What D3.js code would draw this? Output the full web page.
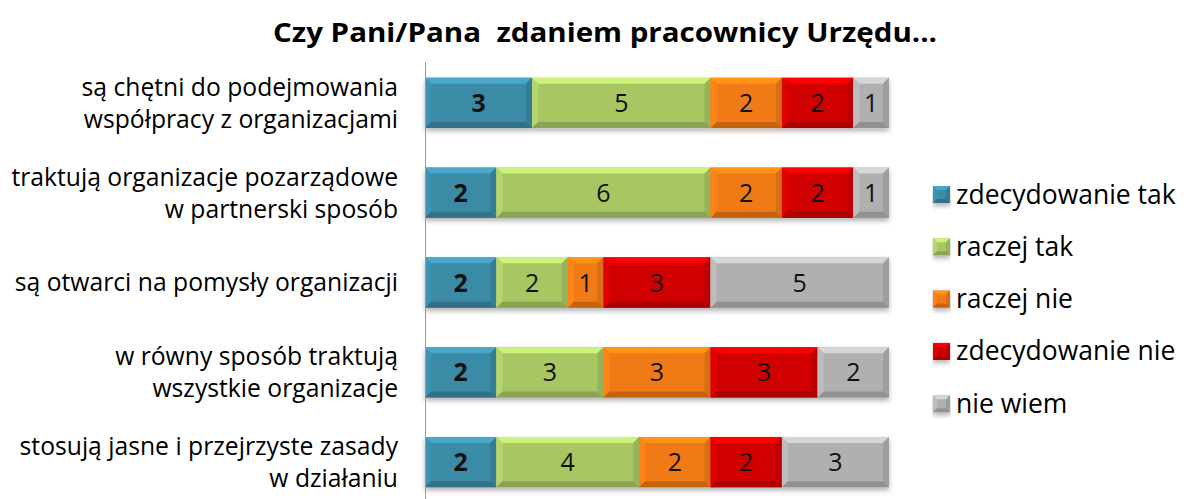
<!DOCTYPE html>
<html><head><meta charset="utf-8">
<script src="https://cdn.jsdelivr.net/npm/d3@7"></script>
<style>body{margin:0;background:#fff}svg{display:block}</style>
</head><body><svg id="c" width="1189" height="499"></svg>
<script>
const categories = [
  ["są chętni do podejmowania", "współpracy z organizacjami"],
  ["traktują organizacje pozarządowe", "w partnerski sposób"],
  ["są otwarci na pomysły organizacji"],
  ["w równy sposób traktują", "wszystkie organizacje"],
  ["stosują jasne i przejrzyste zasady", "w działaniu"]
];
const seriesNames = ["zdecydowanie tak", "raczej tak", "raczej nie", "zdecydowanie nie", "nie wiem"];
const zdecydowanieTak = [3, 2, 2, 2, 2];
const raczejTak       = [5, 6, 2, 3, 4];
const raczejNie       = [2, 2, 1, 3, 2];
const zdecydowanieNie = [2, 2, 3, 3, 2];
const nieWiem         = [1, 1, 5, 2, 3];
const seriesValues = [zdecydowanieTak, raczejTak, raczejNie, zdecydowanieNie, nieWiem];
const colors = ["#3a8aa6", "#a8c764", "#f07a14", "#d00404", "#b0b0b0"];
const title = "Czy Pani/Pana\u00a0 zdaniem pracownicy Urzędu...";

const svg = d3.select("#c");
const FONT = "'Open Sans', Lato, sans-serif";

const x = d3.scaleLinear().domain([0, 13]).range([425, 889]);
const y = d3.scaleBand().domain(d3.range(categories.length)).range([58, 507]).paddingInner(0.44).paddingOuter(0.22);

const defs = svg.append("defs");
const f = defs.append("filter").attr("id", "sh").attr("x", "-5%").attr("y", "-20%").attr("width", "110%").attr("height", "160%");
f.append("feDropShadow").attr("dx", 0).attr("dy", 3).attr("stdDeviation", 2.5).attr("flood-color", "#000").attr("flood-opacity", 0.3);

function fit(sel, w) { sel.attr("textLength", w).attr("lengthAdjust", "spacingAndGlyphs"); }

// title
const tt = svg.append("text").attr("x", 605).attr("y", 42).attr("text-anchor", "middle")
  .attr("font-family", FONT).attr("font-weight", "bold").attr("font-size", 27).attr("fill", "#000").text(title);
fit(tt, 664);

const stacked = categories.map((c, i) => {
  let acc = 0;
  return seriesValues.map((s, k) => { const v = s[i]; const r = {i, k, x0: acc, x1: acc + v, v}; acc += v; return r; });
});

function bevel(g, x0, y0, w, h, col, bs) {
  const b = Math.min(bs, w / 3);
  const c = d3.color(col);
  g.append("rect").attr("x", x0).attr("y", y0).attr("width", w).attr("height", h).attr("fill", col);
  const poly = (pts, fill) => g.append("polygon").attr("points", pts.map(p => p.join(",")).join(" ")).attr("fill", fill);
  poly([[x0, y0], [x0 + w, y0], [x0 + w - b, y0 + b], [x0 + b, y0 + b]], c.brighter(0.55).toString());
  poly([[x0, y0], [x0 + b, y0 + b], [x0 + b, y0 + h - b], [x0, y0 + h]], c.brighter(0.2).toString());
  poly([[x0 + w, y0], [x0 + w, y0 + h], [x0 + w - b, y0 + h - b], [x0 + w - b, y0 + b]], c.darker(0.3).toString());
  poly([[x0, y0 + h], [x0 + b, y0 + h - b], [x0 + w - b, y0 + h - b], [x0 + w, y0 + h]], c.darker(0.55).toString());
}

const barsG = svg.append("g");
stacked.forEach(row => {
  const rg = barsG.append("g").attr("filter", "url(#sh)");
  row.forEach(d => {
    bevel(rg, x(d.x0), y(d.i), x(d.x1) - x(d.x0), y.bandwidth(), colors[d.k], 6);
  });
  row.forEach(d => {
    barsG.append("text").attr("x", (x(d.x0) + x(d.x1)) / 2).attr("y", y(d.i) + y.bandwidth() / 2)
      .attr("dy", "0.36em").attr("text-anchor", "middle").attr("font-family", FONT)
      .attr("font-size", 25).attr("font-weight", d.k === 0 ? "bold" : "normal").attr("fill", "#111").text(d.v);
  });
});

svg.append("line").attr("x1", 425.5).attr("x2", 425.5).attr("y1", 62).attr("y2", 499).attr("stroke", "#9a9a9a").attr("stroke-width", 1);

categories.forEach((lines, i) => {
  const cy = y(i) + y.bandwidth() / 2;
  const lh = 32;
  lines.forEach((t, j) => {
    svg.append("text").attr("x", 398).attr("y", cy + (j - (lines.length - 1) / 2) * lh)
      .attr("dy", "0.36em").attr("text-anchor", "end").attr("font-family", FONT).attr("font-size", 24.7).attr("fill", "#000").text(t);
  });
});

const lg = svg.append("g");
seriesNames.forEach((n, k) => {
  const cy = 194 + k * 52.3;
  const g = lg.append("g").attr("filter", "url(#sh)");
  bevel(g, 933, cy - 8, 17, 17, colors[k], 4);
  lg.append("text").attr("x", 956).attr("y", cy).attr("dy", "0.36em").attr("font-family", FONT)
    .attr("font-size", 26.5).attr("fill", "#000").text(n);
});
</script></body></html>
